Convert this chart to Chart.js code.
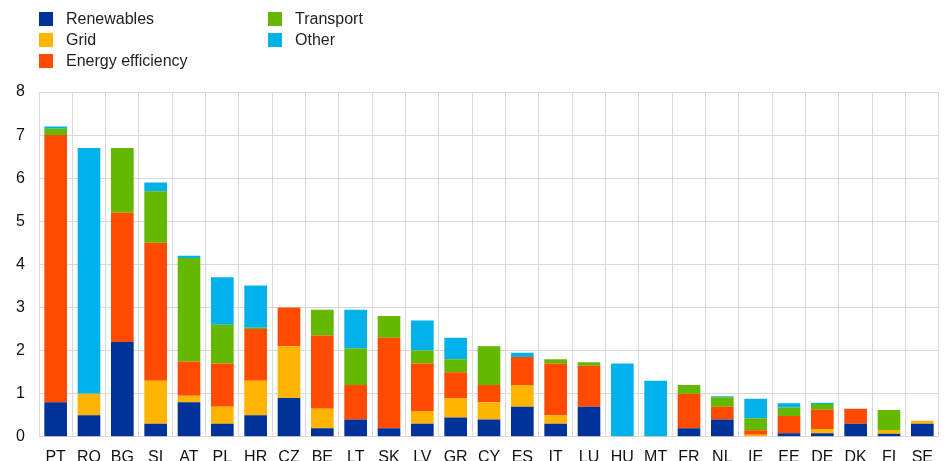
<!DOCTYPE html>
<html>
<head>
<meta charset="utf-8">
<script src="https://cdn.jsdelivr.net/npm/chart.js@4/dist/chart.umd.min.js"></script>
<style>
  html, body { margin: 0; padding: 0; background: #fff; overflow: hidden; }
  #wrap { position: relative; width: 944px; height: 461px; overflow: hidden; font-family: "Liberation Sans", Arial, sans-serif; }
  #chart { position: absolute; left: 0; top: 0; }
  .legend-item { position: absolute; display: flex; align-items: center; font-size: 16px; color: #222; height: 14px; white-space: nowrap; }
  .legend-item .swatch { width: 14px; height: 14px; margin-right: 13px; flex: none; }
</style>
</head>
<body>
<div id="wrap">
  <canvas id="chart" width="944" height="478"></canvas>
  <div id="legend"></div>
</div>
<script>
const countries = ['PT','RO','BG','SI','AT','PL','HR','CZ','BE','LT','SK','LV','GR','CY','ES','IT','LU','HU','MT','FR','NL','IE','EE','DE','DK','FI','SE'];

const renewables       = [0.8, 0.5, 2.2, 0.3, 0.8, 0.3, 0.5, 0.9, 0.2, 0.4, 0.2, 0.3, 0.45, 0.4, 0.7, 0.3, 0.7, 0, 0, 0.2, 0.4, 0, 0.08, 0.08, 0.3, 0.07, 0.3];
const grid             = [0, 0.5, 0, 1.0, 0.15, 0.4, 0.8, 1.2, 0.45, 0, 0, 0.3, 0.45, 0.4, 0.5, 0.2, 0, 0, 0, 0, 0, 0.05, 0, 0.1, 0, 0.09, 0.07];
const energyEfficiency = [6.2, 0, 3.0, 3.2, 0.8, 1.0, 1.2, 0.9, 1.7, 0.8, 2.1, 1.1, 0.6, 0.4, 0.65, 1.2, 0.95, 0, 0, 0.8, 0.3, 0.1, 0.4, 0.45, 0.35, 0, 0];
const transport        = [0.15, 0, 1.5, 1.2, 2.4, 0.9, 0.03, 0, 0.6, 0.85, 0.5, 0.3, 0.3, 0.9, 0, 0.1, 0.08, 0, 0, 0.2, 0.22, 0.28, 0.2, 0.13, 0, 0.46, 0];
const other            = [0.05, 5.7, 0, 0.2, 0.05, 1.1, 0.98, 0, 0, 0.9, 0, 0.7, 0.5, 0, 0.1, 0, 0, 1.7, 1.3, 0, 0.02, 0.45, 0.1, 0.03, 0, 0, 0];

const yTicks = [0, 1, 2, 3, 4, 5, 6, 7, 8];

const series = [
  { label: 'Renewables',        data: renewables,       color: '#003299' },
  { label: 'Grid',              data: grid,             color: '#FFB400' },
  { label: 'Energy efficiency', data: energyEfficiency, color: '#FF4B00' },
  { label: 'Transport',         data: transport,        color: '#65B800' },
  { label: 'Other',             data: other,            color: '#00B1EA' },
];

// legend laid out in two columns, column-major like the original
const legendPos = [[39, 12], [39, 33], [39, 54], [268, 12], [268, 33]];
const legendEl = document.getElementById('legend');
series.forEach((s, i) => {
  const item = document.createElement('div');
  item.className = 'legend-item';
  item.style.left = legendPos[i][0] + 'px';
  item.style.top = legendPos[i][1] + 'px';
  item.innerHTML = `<span class="swatch" style="background:${s.color}"></span><span>${s.label}</span>`;
  legendEl.appendChild(item);
});

const gridColor = '#d9d9d9';
const font = { family: '"Liberation Sans", Arial, sans-serif', size: 16 };

new Chart(document.getElementById('chart'), {
  type: 'bar',
  data: {
    labels: countries,
    datasets: series.map(s => ({
      label: s.label,
      data: s.data,
      backgroundColor: s.color,
      borderWidth: 0,
      barPercentage: 0.68,
      categoryPercentage: 1,
    })),
  },
  options: {
    responsive: false,
    animation: false,
    layout: { padding: { top: 92, right: 0, left: 0, bottom: 0 } },
    plugins: { legend: { display: false }, tooltip: { enabled: false } },
    scales: {
      x: {
        stacked: true,
        grid: { color: gridColor, drawTicks: false },
        border: { color: gridColor },
        ticks: { color: '#111', font, padding: 11, maxRotation: 0, autoSkip: false },
      },
      y: {
        stacked: true,
        min: 0,
        max: 8,
        afterBuildTicks: axis => { axis.ticks = yTicks.map(v => ({ value: v })); },
        afterFit: axis => { axis.width = 39; },
        grid: { color: gridColor, drawTicks: false },
        border: { display: false },
        ticks: { color: '#111', font, padding: 14 },
      },
    },
  },
});
</script>
</body>
</html>
